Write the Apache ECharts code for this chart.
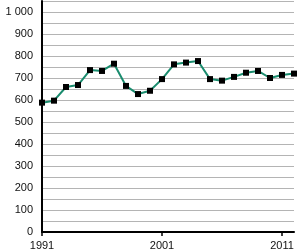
<!DOCTYPE html>
<html>
<head>
<meta charset="utf-8">
<script src="https://cdn.jsdelivr.net/npm/echarts@6/dist/echarts.min.js"></script>
<style>
  html, body { margin: 0; padding: 0; background: #fff; }
  #chart { width: 304px; height: 251px; }
</style>
</head>
<body>
<div id="chart"></div>
<script>
// years and values
var years = [1991, 1992, 1993, 1994, 1995, 1996, 1997, 1998, 1999, 2000, 2001,
  2002, 2003, 2004, 2005, 2006, 2007, 2008, 2009, 2010, 2011, 2012];
var values = [588, 597, 659, 668, 736, 732, 765, 664, 627, 642, 695,
  762, 770, 777, 695, 688, 705, 724, 732, 700, 714, 720];
var xTicks = [1991, 2001, 2011];

var chart = echarts.init(document.getElementById("chart"));

var points = [];
for (var i = 0; i < years.length; i++) {
  points.push([years[i], values[i]]);
}

chart.setOption({
  animation: false,
  grid: { left: 42, right: 10, top: 1, bottom: 19 },
  xAxis: {
    type: "value",
    min: 1991,
    max: 2012,
    interval: 10,
    axisLine: { show: true, lineStyle: { color: "#000", width: 2 } },
    axisTick: { show: true, length: 4, lineStyle: { color: "#000", width: 1.5 } },
    splitLine: { show: false },
    axisLabel: {
      color: "#111",
      fontFamily: "Liberation Sans",
      fontSize: 11,
      margin: 8,
      showMaxLabel: false,
      formatter: function (v) {
        return xTicks.indexOf(v) >= 0 ? String(v) : "";
      },
    },
  },
  yAxis: {
    type: "value",
    min: 0,
    max: 1050,
    interval: 50,
    axisLine: { show: true, lineStyle: { color: "#000", width: 2 } },
    axisTick: { show: false },
    splitLine: { show: true, lineStyle: { color: "#b4b4b4", width: 1 } },
    axisLabel: {
      color: "#111",
      fontFamily: "Liberation Sans",
      fontSize: 11,
      margin: 9,
      formatter: function (v) {
        if (v % 100 !== 0) return "";
        return v >= 1000 ? "1 " + String(v).slice(1) : String(v);
      },
    },
  },
  series: [
    {
      type: "line",
      data: points,
      symbol: "rect",
      symbolSize: 6,
      itemStyle: { color: "#000" },
      lineStyle: { color: "#1a8c6e", width: 2 },
      z: 3,
    },
  ],
});
</script>
</body>
</html>
